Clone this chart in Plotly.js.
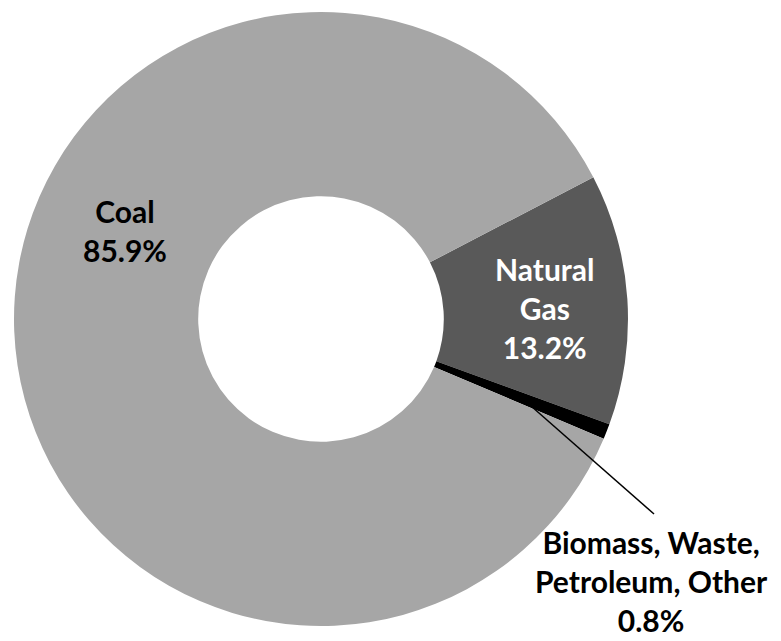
<!DOCTYPE html>
<html>
<head>
<meta charset="utf-8">
<script src="https://cdn.plot.ly/plotly-3.0.1.min.js"></script>
<style>html,body{margin:0;padding:0;background:#fff}</style>
</head>
<body>
<div id="chart" style="width:781px;height:641px"></div>
<script>
// ---- data ----
var labels = ["Natural Gas", "Biomass, Waste, Petroleum, Other", "Coal"];
var labelLines = ["Natural<br>Gas", "Biomass, Waste,<br>Petroleum, Other", "Coal"];
var values = [13.2, 0.8, 85.9];
var colors = ["#595959", "#000000", "#a6a6a6"];
var textColors = ["#ffffff", "#000000", "#000000"];

// ---- layout helpers (pixel -> paper) ----
var W = 781, H = 641;
function px(x) { return x / W; }
function py(y) { return 1 - y / H; }

var labelPos = [[545, 308], [651, 581], [125, 230]];

var annotations = labels.map(function (l, i) {
  return {
    xref: "paper", yref: "paper",
    x: px(labelPos[i][0]), y: py(labelPos[i][1]),
    xanchor: "center", yanchor: "middle",
    text: labelLines[i] + "<br>" + values[i].toFixed(1) + "%",
    showarrow: false,
    align: "center",
    borderpad: 0,
    font: {family: "Lato, 'Open Sans', sans-serif", size: 30, color: textColors[i], weight: "bold"}
  };
});

var trace = {
  type: "pie",
  labels: labels,
  values: values,
  sort: false,
  direction: "clockwise",
  rotation: 62.5,
  hole: 0.40,
  marker: {colors: colors, line: {width: 0}},
  textinfo: "none",
  hoverinfo: "label+percent",
  showlegend: false,
  domain: {x: [px(14), px(628)], y: [py(626), py(12)]}
};

var layout = {
  width: W, height: H,
  margin: {l: 0, r: 0, t: 0, b: 0},
  paper_bgcolor: "#ffffff",
  plot_bgcolor: "#ffffff",
  showlegend: false,
  annotations: annotations,
  shapes: [{
    type: "line", xref: "paper", yref: "paper",
    x0: px(531), y0: py(406), x1: px(654), y1: py(514),
    line: {color: "#000000", width: 1.5}
  }]
};

Plotly.newPlot("chart", [trace], layout, {displayModeBar: false, staticPlot: true});
</script>
</body>
</html>
